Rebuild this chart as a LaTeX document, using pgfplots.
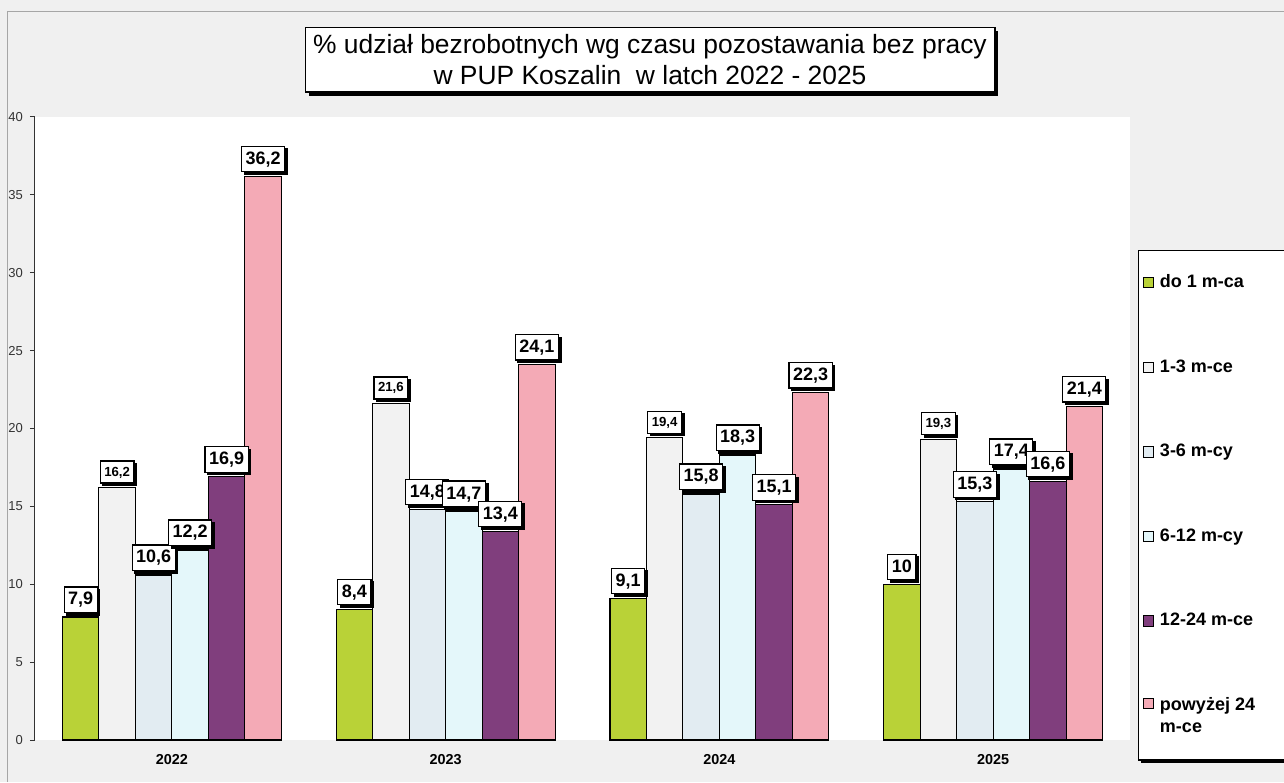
\documentclass[border=0pt]{standalone}
\usepackage{fontspec}
\setmainfont{Liberation Sans}
\usepackage{pgfplots}
\pgfplotsset{compat=1.18}
\usetikzlibrary{shadows}

\definecolor{cA}{RGB}{185,210,55}
\definecolor{cB}{RGB}{242,242,242}
\definecolor{cC}{RGB}{226,236,242}
\definecolor{cD}{RGB}{228,247,250}
\definecolor{cE}{RGB}{128,62,125}
\definecolor{cF}{RGB}{244,170,182}
\definecolor{bgray}{RGB}{240,240,240}

\pgfplotsset{
  mybar/.style={draw=black, line width=0.6pt, fill=#1,
    legend image code/.code={\draw[draw=black,line width=0.5pt,fill=#1] (0pt,-2.6pt) rectangle (5.2pt,2.6pt);}},
}
\tikzset{
  lbl/.style={fill=white, draw=black, line width=0.6pt, inner xsep=2pt, inner ysep=2.5pt,
    general shadow={fill=black, shadow xshift=1.3pt, shadow yshift=-1.3pt}},
}

\begin{document}
\begin{tikzpicture}
\path[use as bounding box] (0,0) rectangle (642pt,391pt);
\fill[bgray] (0,0) rectangle (642pt,391pt);
\draw[gray!70, line width=0.5pt] (3.5pt,0) -- (3.5pt,385pt) -- (642pt,385pt);
\begin{scope}
\clip (0,0) rectangle (642pt,391pt);
\begin{axis}[
  at={(17.5pt,21pt)}, anchor=south west,
  scale only axis, width=547.5pt, height=311.5pt,
  axis background/.style={fill=white},
  ybar=0pt, bar width=0.1333,
  xmin=-0.5, xmax=3.5, ymin=0, ymax=40,
  xtick={0,1,2,3}, xticklabels={2022,2023,2024,2025},
  ytick={0,5,...,40},
  axis y line*=left, axis x line*=bottom,
  x axis line style={draw=none}, y axis line style={-, line width=0.5pt, black!80},
  xtick style={draw=none},
  ytick style={black!80, line width=0.5pt},
  tick align=outside, major tick length=2.5pt,
  x tick label style={font=\fontsize{7.2}{8}\selectfont\bfseries, yshift=-1pt},
  y tick label style={font=\fontsize{6.5}{7}\selectfont, black!80},
  /pgf/number format/assume math mode=true,
  nodes near coords,
  every node near coord/.append style={/pgf/number format/use comma, /pgf/number format/fixed, /pgf/number format/precision=1,
    lbl, font=\fontsize{9}{10}\selectfont\bfseries, yshift=2pt, text height=6.5pt, text depth=1.2pt},
  legend style={name=leg, at={(1.0073,0.7865)}, anchor=north west, draw=black, line width=0.6pt, fill=white,
    font=\fontsize{9}{11}\selectfont\bfseries, row sep=30.5pt, column sep=1pt, inner xsep=2pt, inner ysep=10pt,
    nodes={align=left, inner xsep=2pt}},
  legend cell align=left,
]
\addplot[mybar=cA] coordinates {(0,7.9) (1,8.4) (2,9.1) (3,10)};
\addplot[mybar=cB, every node near coord/.append style={font=\fontsize{6.6}{7}\selectfont\bfseries, text height=5pt, text depth=1pt}] coordinates {(0,16.2) (1,21.6) (2,19.4) (3,19.3)};
\addplot[mybar=cC] coordinates {(0,10.6) (1,14.8) (2,15.8) (3,15.3)};
\addplot[mybar=cD] coordinates {(0,12.2) (1,14.7) (2,18.3) (3,17.4)};
\addplot[mybar=cE] coordinates {(0,16.9) (1,13.4) (2,15.1) (3,16.6)};
\addplot[mybar=cF, legend image code/.code={\draw[draw=black,line width=0.5pt,fill=cF] (0pt,4.1pt) rectangle (5.2pt,9.3pt);}] coordinates {(0,36.2) (1,24.1) (2,22.3) (3,21.4)};
\legend{do 1 m-ca\hspace{40pt}, 1-3 m-ce, 3-6 m-cy, 6-12 m-cy, 12-24 m-ce, powyżej 24\\m-ce}
\end{axis}
\fill[black] ([xshift=1.4pt]leg.south west) rectangle ([yshift=-1.4pt]leg.south east);
\end{scope}
\node[fill=white, draw=black, line width=0.7pt, align=center, inner xsep=4pt, inner ysep=3.5pt,
  font=\fontsize{13.2}{15.5}\selectfont,
  general shadow={fill=black, shadow xshift=1.8pt, shadow yshift=-1.8pt}]
  at (325pt,361pt) {\% udział bezrobotnych wg czasu pozostawania bez pracy\\w PUP Koszalin\ \ w latch 2022 - 2025};
\end{tikzpicture}
\end{document}
